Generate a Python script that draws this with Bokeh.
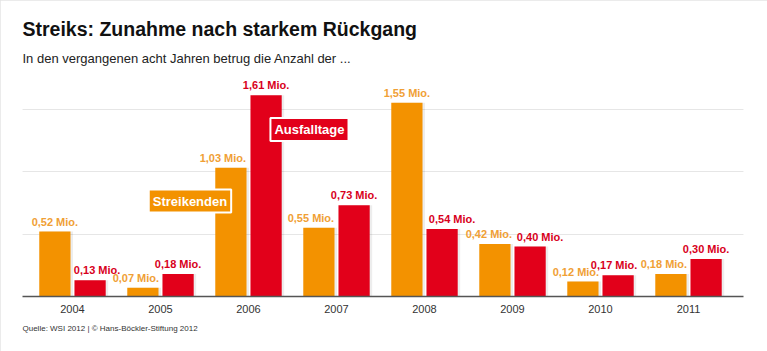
from bokeh.plotting import figure
from bokeh.models import ColumnDataSource, FixedTicker, Grid, Label, Title
from bokeh.core.properties import value
from bokeh.embed import file_html
from bokeh.resources import INLINE

# ---- data ----
years = ["2004", "2005", "2006", "2007", "2008", "2009", "2010", "2011"]
streikende = [0.52, 0.07, 1.03, 0.55, 1.55, 0.42, 0.12, 0.18]     # Mio. Streikende
ausfalltage = [0.13, 0.18, 1.61, 0.73, 0.54, 0.40, 0.17, 0.30]    # Mio. Ausfalltage
grid_values = [0.5, 1.0, 1.5]

# ---- layout nudges for value labels (pixels) ----
nudge_orange = [0, -7, -8, -8, 0, -6, -7, -7]
nudge_red = [7, 0, 0, 0, 10, 10, -4, 0]

ORANGE = "#f39200"
RED = "#e2001a"
ORANGE_TXT = "#f0a035"
RED_TXT = "#d8001c"
FONT = "Liberation Sans"

def fmt(v):
    return ("%.2f" % v).replace(".", ",") + " Mio."

idx = list(range(len(years)))
off = 0.2
bw = 0.355

src_o = ColumnDataSource(dict(
    x=[i - off for i in idx], top=streikende,
    lbl=[fmt(v) for v in streikende], dx=nudge_orange))
src_r = ColumnDataSource(dict(
    x=[i + off for i in idx], top=ausfalltage,
    lbl=[fmt(v) for v in ausfalltage], dx=nudge_red))

p = figure(width=767, height=351, output_backend="svg", toolbar_location=None,
           x_range=(-0.568, 7.625), y_range=(0, 1.80),
           y_axis_location=None, min_border_left=22, min_border_right=24,
           min_border_top=71, min_border_bottom=55,
           background_fill_color="white", border_fill_color="white")
p.outline_line_color = None
p.xgrid.visible = False
p.styles = {"outline": "2px solid #e4e4e4", "outline-offset": "-2px"}

g = Grid(dimension=1, ticker=FixedTicker(ticks=grid_values),
         grid_line_color="#e6e6e6", grid_line_width=1)
p.add_layout(g)

# subtle bar shadows
sh = 2.5 / 88
p.vbar(x=[i - off + sh for i in idx], top=streikende, width=bw, bottom=0,
       fill_color="black", fill_alpha=0.07, line_color=None)
p.vbar(x=[i + off + sh for i in idx], top=ausfalltage, width=bw, bottom=0,
       fill_color="black", fill_alpha=0.07, line_color=None)

p.vbar(x="x", top="top", width=bw, bottom=0, source=src_o,
       fill_color=ORANGE, line_color=None)
p.vbar(x="x", top="top", width=bw, bottom=0, source=src_r,
       fill_color=RED, line_color=None)

for s, c in ((src_o, ORANGE_TXT), (src_r, RED_TXT)):
    p.text(x="x", y="top", text="lbl", source=s, x_offset="dx", y_offset=-10,
           text_align="center", text_baseline="middle",
           text_font=value(FONT), text_font_style="bold",
           text_font_size="11px", text_color=c)

# x axis
p.xaxis.ticker = FixedTicker(ticks=idx)
p.xaxis.major_label_overrides = {i: y for i, y in zip(idx, years)}
p.xaxis.major_tick_line_color = None
p.xaxis.minor_tick_line_color = None
p.xaxis.axis_line_color = "#555555"
p.xaxis.axis_line_width = 1.5
p.xaxis.major_label_standoff = 2
p.xaxis.major_label_text_font = FONT
p.xaxis.major_label_text_font_size = "11px"
p.xaxis.major_label_text_color = "#333333"

# series tags (shadow + tag)
for txt, xx, yy, col in (("Streikenden", 2 - 0.665, 0.764, ORANGE),
                         ("Ausfalltage", 2 + 0.693, 1.336, RED)):
    p.add_layout(Label(x=xx, y=yy, x_offset=2, y_offset=-2, text=txt,
                       text_align="center", text_baseline="middle",
                       text_font=FONT, text_font_style="bold",
                       text_font_size="13px", text_color="#bbbbbb",
                       text_alpha=0.0, background_fill_color="black",
                       background_fill_alpha=0.12, padding=5))
    p.add_layout(Label(x=xx, y=yy, text=txt, text_align="center",
                       text_baseline="middle", text_font=FONT,
                       text_font_style="bold", text_font_size="13px",
                       text_color="white", background_fill_color=col,
                       border_line_color="white", border_line_width=2,
                       padding=4))

# titles: subtitle nearest the frame, main title above it
p.add_layout(Title(text="In den vergangenen acht Jahren betrug die Anzahl der ...",
                   text_font=FONT, text_font_size="13px", text_font_style="normal",
                   text_color="#222222", standoff=12), "above")
p.add_layout(Title(text="Streiks: Zunahme nach starkem Rückgang",
                   text_font=FONT, text_font_style="bold",
                   text_font_size="19.5px", text_color="#111111", standoff=6), "above")
p.add_layout(Title(text="Quelle: WSI 2012 | © Hans-Böckler-Stiftung 2012",
                   text_font=FONT, text_font_size="8px",
                   text_font_style="normal", text_color="#333333",
                   standoff=12), "below")

open("out.html", "w").write(file_html(p, INLINE))
